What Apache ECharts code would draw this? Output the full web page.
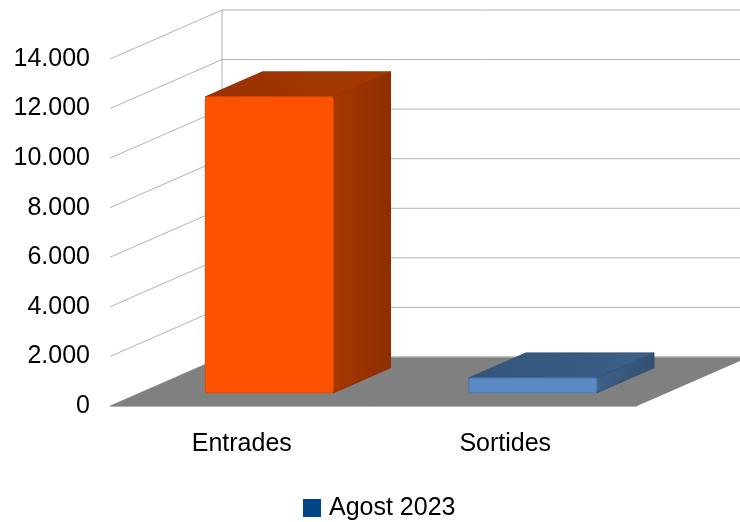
<!DOCTYPE html>
<html>
<head>
<meta charset="utf-8">
<script src="https://cdn.jsdelivr.net/npm/echarts@6/dist/echarts.min.js"></script>
<style>html,body{margin:0;padding:0;background:#fff}#c{width:740px;height:522px}</style>
</head>
<body>
<div id="c"></div>
<script>
// ---- data ----
const categories = ['Entrades', 'Sortides'];
const seriesName = 'Agost 2023';
const values = [11940, 600];
const yTicks = [0, 2000, 4000, 6000, 8000, 10000, 12000, 14000];
const yTickLabels = ['0', '2.000', '4.000', '6.000', '8.000', '10.000', '12.000', '14.000'];

// ---- style / projection ----
const DX = 112, DY = -49;          // depth vector of the 3D box
const DF = 0.27, DB = 0.51;        // bar front depth fraction, bar depth fraction
const BAR_W = 0.486;               // bar width relative to band
const BAR_SHIFT = -0.01;           // bar offset relative to band
const FONT = 'Liberation Sans';
const palette = [
  {front: '#fd5200', frontStroke: '#d94600', side: ['#a83800', '#8c2e00'], top: ['#983200', '#a63800']},
  {front: '#5a89c4', frontStroke: '#4a77b0', side: ['#3e6189', '#33506f'], top: ['#33547a', '#3d6089']}
];

const chart = echarts.init(document.getElementById('c'), null, {renderer: 'canvas'});

function renderWalls(params, api) {
  const n = categories.length;
  const c0 = api.coord([0, 0]);
  const bw = api.size([1, 0])[0];
  const x0 = c0[0] - bw / 2;
  const x1 = api.coord([n - 1, 0])[0] + bw / 2;
  const yb = c0[1];
  const yt = api.coord([0, yTicks[yTicks.length - 1]])[1];
  const ch = [];
  ch.push({type: 'polygon', shape: {points: [[x0, yb], [x0, yt], [x0 + DX, yt + DY], [x0 + DX, yb + DY]]}, style: {fill: '#ffffff'}});
  yTicks.forEach(function (v) {
    const y = api.coord([0, v])[1];
    ch.push({type: 'polyline', shape: {points: [[x0, y], [x0 + DX, y + DY], [x1 + DX + 20, y + DY]]}, style: {stroke: '#b3b3b3', lineWidth: 1, fill: null}});
  });
  ch.push({type: 'line', shape: {x1: x0 + DX, y1: yb + DY, x2: x0 + DX, y2: yt + DY}, style: {stroke: '#b3b3b3', lineWidth: 1}});
  ch.push({type: 'polygon', shape: {points: [[x0, yb], [x1, yb], [x1 + DX, yb + DY], [x0 + DX, yb + DY]]}, style: {fill: '#808080'}});
  ch.push({type: 'line', shape: {x1: x0, y1: yb + 0.5, x2: x1, y2: yb + 0.5}, style: {stroke: '#b3b3b3', lineWidth: 1}});
  ch.push({type: 'line', shape: {x1: x0 + DX, y1: yb + DY, x2: x1 + DX + 20, y2: yb + DY}, style: {stroke: '#b3b3b3', lineWidth: 1}});
  return {type: 'group', children: ch};
}

function renderBar(params, api) {
  const i = api.value(0), v = api.value(1);
  const bw = api.size([1, 0])[0];
  const c = api.coord([i, 0]);
  const t = api.coord([i, v]);
  const w = bw * BAR_W;
  const fx = DX * DF, fy = DY * DF;
  const bx = DX * DB, by = DY * DB;
  const left = c[0] - w / 2 + fx + bw * BAR_SHIFT;
  const right = left + w;
  const top = t[1] + fy;
  const bottom = c[1] + fy;
  const p = palette[i % palette.length];
  const grad = function (cols, x0, y0, x1, y1) {
    return new echarts.graphic.LinearGradient(x0, y0, x1, y1, [{offset: 0, color: cols[0]}, {offset: 1, color: cols[1]}]);
  };
  return {
    type: 'group',
    children: [
      {type: 'polygon', shape: {points: [[right, top], [right + bx, top + by], [right + bx, bottom + by], [right, bottom]]},
        style: {fill: grad(p.side, 0, 0, 1, 0), stroke: p.side[1], lineWidth: 1}},
      {type: 'polygon', shape: {points: [[left, top], [right, top], [right + bx, top + by], [left + bx, top + by]]},
        style: {fill: grad(p.top, 0, 1, 1, 0), stroke: p.top[0], lineWidth: 1}},
      {type: 'rect', shape: {x: left, y: top, width: w, height: bottom - top, r: 2},
        style: {fill: p.front, stroke: p.frontStroke, lineWidth: 1}}
    ]
  };
}

chart.setOption({
  animation: false,
  backgroundColor: '#ffffff',
  textStyle: {fontFamily: FONT},
  grid: {left: 110, right: 103, top: 59, bottom: 116, containLabel: false},
  legend: {
    data: [seriesName],
    left: 298, top: 490,
    icon: 'rect', itemWidth: 18, itemHeight: 18, itemGap: 10,
    textStyle: {fontSize: 25, color: '#000', fontFamily: FONT, lineHeight: 26, padding: [0, 0, 0, 3]}
  },
  xAxis: {
    type: 'category', data: categories,
    axisLine: {show: false}, axisTick: {show: false}, splitLine: {show: false},
    axisLabel: {fontSize: 25, color: '#000', margin: 26, fontFamily: FONT}
  },
  yAxis: {
    type: 'value', min: 0, max: 14000, interval: 2000,
    axisLine: {show: true, lineStyle: {color: '#b3b3b3', width: 1}},
    axisTick: {show: false}, splitLine: {show: false},
    axisLabel: {fontSize: 25, color: '#000', margin: 20, fontFamily: FONT,
      formatter: function (v) { const k = yTicks.indexOf(v); return k >= 0 ? yTickLabels[k] : ''; }}
  },
  series: [
    {type: 'custom', name: 'walls', coordinateSystem: 'cartesian2d', renderItem: renderWalls, data: [[0, 0]], z: 1, silent: true, clip: false},
    {type: 'custom', name: seriesName, coordinateSystem: 'cartesian2d', renderItem: renderBar,
      itemStyle: {color: '#004586'}, data: values.map(function (v, i) { return [i, v]; }), z: 5, clip: false}
  ]
});
</script>
</body>
</html>
